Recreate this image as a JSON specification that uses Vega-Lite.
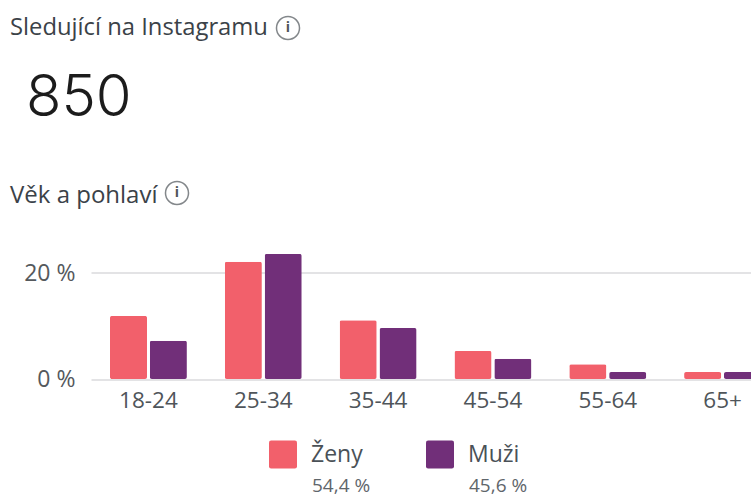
{
"$schema":"https://vega.github.io/schema/vega-lite/v6.json",
"width":660,"height":132.5,
"autosize":"none",
"padding":{"left":91,"top":246.5,"right":0,"bottom":117},
"background":"white",
"config":{"view":{"stroke":null},"font":"Open Sans"},
"title":{"text":"Sledující na Instagramu","anchor":"start","frame":"group","dx":-81,"dy":26,"offset":0,"font":"Open Sans","fontSize":23.8,"fontWeight":"normal","color":"#3b4248"},
"layer":[
{"data":{"values":[
{"age":"18-24","sex":"Ženy","pct":11.9},{"age":"18-24","sex":"Muži","pct":7.2},
{"age":"25-34","sex":"Ženy","pct":22.1},{"age":"25-34","sex":"Muži","pct":23.6},
{"age":"35-44","sex":"Ženy","pct":11.1},{"age":"35-44","sex":"Muži","pct":9.6},
{"age":"45-54","sex":"Ženy","pct":5.3},{"age":"45-54","sex":"Muži","pct":3.8},
{"age":"55-64","sex":"Ženy","pct":2.8},{"age":"55-64","sex":"Muži","pct":1.3},
{"age":"65+","sex":"Ženy","pct":1.3},{"age":"65+","sex":"Muži","pct":1.3}]},
"mark":{"type":"bar","cornerRadius":2,"clip":false},
"encoding":{
"x":{"field":"age","type":"nominal","sort":null,"scale":{"range":[0,689],"paddingInner":0.33,"paddingOuter":0.165},
"axis":{"title":null,"labelAngle":0,"domain":false,"ticks":false,"labelFontSize":22.5,"labelColor":"#4f555a","labelPadding":10,"labelFont":"Open Sans"}},
"xOffset":{"field":"sex","type":"nominal","sort":["Ženy","Muži"],"scale":{"paddingInner":0.07}},
"y":{"field":"pct","type":"quantitative","scale":{"domain":[0,25],"nice":false},
"axis":{"title":null,"values":[0,20],"labelExpr":"datum.value + ' %'","domain":false,"ticks":false,"grid":true,"gridColor":"#e3e3e5","gridWidth":2,"labelFontSize":23,"labelColor":"#55595d","labelPadding":16,"labelFont":"Open Sans"}},
"color":{"field":"sex","type":"nominal","sort":["Ženy","Muži"],"scale":{"domain":["Ženy","Muži"],"range":["#f2606b","#712f79"]},
"legend":{"title":null,"orient":"none","direction":"horizontal","legendX":178,"legendY":194,"symbolType":"M-0.85,-1H0.85Q1,-1 1,-0.85V0.85Q1,1 0.85,1H-0.85Q-1,1 -1,0.85V-0.85Q-1,-1 -0.85,-1Z","symbolSize":784,"symbolStrokeWidth":0,"symbolOpacity":1,"labelFontSize":23,"labelColor":"#4a5157","labelOffset":14,"columnPadding":63,"labelFont":"Open Sans"}}
}},
{"data":{"values":[{"label":"850"}]},"mark":{"type":"text","x":-65,"y":-148,"align":"left","baseline":"middle","fontSize":58,"fontWeight":300,"color":"#1c1c1c","font":"Inter"},"encoding":{"text":{"field":"label"}}},
{"data":{"values":[{"label":"Věk a pohlaví"}]},"mark":{"type":"text","x":-81,"y":-51,"align":"left","baseline":"middle","fontSize":24,"color":"#3b4248","font":"Open Sans"},"encoding":{"text":{"field":"label"}}},
{"data":{"values":[{"label":"54,4 %"}]},"mark":{"type":"text","x":221,"y":239,"align":"left","baseline":"middle","fontSize":19,"color":"#5f666b","font":"Open Sans"},"encoding":{"text":{"field":"label"}}},
{"data":{"values":[{"label":"45,6 %"}]},"mark":{"type":"text","x":378,"y":239,"align":"left","baseline":"middle","fontSize":19,"color":"#5f666b","font":"Open Sans"},"encoding":{"text":{"field":"label"}}},
{"data":{"values":[{"icon":"info"}]},"mark":{"type":"point","shape":"circle","x":197,"y":-218.5,"size":530,"filled":false,"stroke":"#4f555a","strokeWidth":1.5},"encoding":{}},
{"data":{"values":[{"icon":"info"}]},"mark":{"type":"point","shape":"circle","x":86,"y":-53.5,"size":530,"filled":false,"stroke":"#4f555a","strokeWidth":1.5},"encoding":{}},
{"data":{"values":[{"label":"i"}]},"mark":{"type":"text","x":197,"y":-218.5,"align":"center","baseline":"middle","fontSize":14,"fontWeight":"bold","color":"#4f555a","font":"Open Sans"},"encoding":{"text":{"field":"label"}}},
{"data":{"values":[{"label":"i"}]},"mark":{"type":"text","x":86,"y":-53.5,"align":"center","baseline":"middle","fontSize":14,"fontWeight":"bold","color":"#4f555a","font":"Open Sans"},"encoding":{"text":{"field":"label"}}}
]
}
